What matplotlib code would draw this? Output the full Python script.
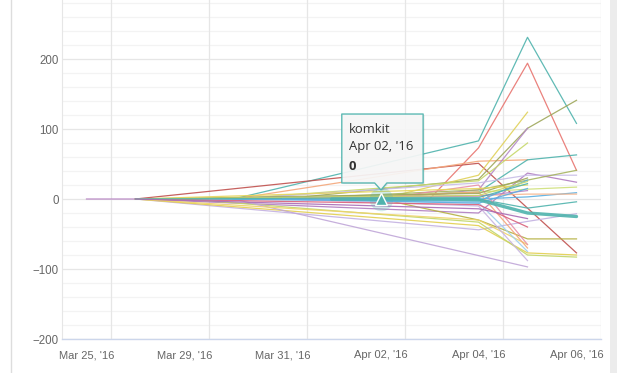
import matplotlib
matplotlib.use("Agg")
import matplotlib.pyplot as plt
from matplotlib.patches import Polygon, Rectangle
from matplotlib.lines import Line2D

plt.rcParams['font.family'] = ['Liberation Sans', 'DejaVu Sans']

# categories (one per data point)
days = ["Mar 25, '16", "Mar 28, '16", "Mar 29, '16", "Mar 30, '16", "Mar 31, '16",
        "Apr 01, '16", "Apr 02, '16", "Apr 03, '16", "Apr 04, '16", "Apr 05, '16",
        "Apr 06, '16"]
shown_labels = [0, 2, 4, 6, 8, 10]

N = None
TEAL = "#4fb3ad"
# series colours and values, None = no point that day
colors = [
    TEAL, "#e8746f", "#c0504d", "#f4a77a", "#9ea75a", "#e0d15a", "#b489c6",
    "#c6d86a", TEAL, "#b07cc0", "#c8bde6", "#a6b45e", "#cfe07a", "#5aaee0",
    "#f6b58d", TEAL, "#c3b1e1", "#b5b040", "#e3cf4f", "#c2d66a", "#c0a6d8",
    "#eed36a", "#f4a77a", "#e88fa8", "#9fd0ec", "#c8b4e0", "#b783c3",
    "#9ea75a", "#e6d55a", "#5aaee0", "#d9607a", "#c6d86a", TEAL, "#a86bb5",
    "#5aaee0",
]
values = [
    [N, N, N, 0, N, N, N, N, 83, 231, 108],
    [N, N, N, N, N, N, N, 0, 73, 194, 41],
    [N, 0, N, N, N, N, N, N, 51, -13, -77],
    [N, N, N, 0, N, N, N, N, 54, 56, N],
    [N, N, N, N, 0, N, N, N, 28, 101, 141],
    [N, N, N, N, N, N, 0, N, 34, 124, N],
    [N, N, N, N, N, N, 0, N, 13, 101, N],
    [N, N, N, 0, N, N, N, N, 26, 80, N],
    [N, N, N, N, N, 0, N, N, 10, 56, 63],
    [N, 0, N, N, N, N, N, N, -20, 37, 24],
    [N, N, N, 0, N, N, N, N, 23, 34, 34],
    [N, N, N, N, 0, N, N, N, 13, 27, 41],
    [N, N, N, N, 0, N, N, N, 10, 14, 17],
    [N, N, N, 0, N, N, N, N, 0, 3, 9],
    [N, N, N, 0, N, N, N, N, 5, 7, 7],
    [N, N, N, N, N, 0, N, N, 0, -13, -4],
    [N, 0, N, N, N, N, N, N, -44, -32, -21],
    [N, N, N, N, N, N, 0, N, -30, -57, -57],
    [N, 0, N, N, N, N, N, N, -38, -77, -80],
    [N, N, 0, N, N, N, N, N, -33, -80, -83],
    [N, N, N, 0, N, N, N, N, N, -97, N],
    [N, 0, N, N, N, N, N, N, -30, -65, N],
    [N, N, N, N, N, 0, N, N, 10, -70, N],
    [N, N, N, N, N, N, 0, N, 20, -65, N],
    [N, N, N, 0, N, N, N, N, -5, -75, N],
    [N, N, N, N, 0, N, N, N, -10, -88, N],
    [0, 0, N, N, N, N, N, N, 4, 12, N],
    [N, 0, N, N, N, N, N, N, 8, 30, N],
    [N, 0, N, N, N, N, N, N, 15, 20, N],
    [N, 0, 0, N, N, N, N, N, -3, 27, N],
    [N, 0, N, N, N, N, N, N, -8, -40, N],
    [N, 0, N, N, N, N, N, N, 5, 25, N],
    [N, 0, N, N, N, N, N, N, 2, 22, N],
    [N, 0, N, N, N, N, N, N, -14, -28, N],
    [N, N, N, N, 0, N, N, N, -6, 15, N],
]
komkit = [N, N, N, N, N, 0, 0, 0, -1, -20, -25]
hover_day = 6

fig = plt.figure(figsize=(6.23, 3.73), dpi=100)
ax = fig.add_axes([62 / 623, 34 / 373, 539 / 623, 339 / 373])

for c, vals in zip(colors, values):
    xs = [i for i, v in enumerate(vals) if v is not None]
    ys = [v for v in vals if v is not None]
    ax.plot(xs, ys, color=c, lw=0.9, alpha=0.9, zorder=3)

kx = [i for i, v in enumerate(komkit) if v is not None]
ky = [v for v in komkit if v is not None]
ax.plot(kx, ky, color=TEAL, lw=2.4, alpha=0.9, zorder=4, solid_capstyle='round')

ax.set_xlim(-0.5, 10.5)
ax.set_ylim(-200, 284.3)

# grid
for y in range(-200, 300, 20):
    major = y % 100 == 0
    ax.axhline(y, color="#e6e6e6" if major else "#f3f3f3", lw=0.9, zorder=1)
for i in range(0, 11, 2):
    ax.axvline(i + 0.5, color="#e6e6e6", lw=0.9, zorder=1)

ax.set_xticks(shown_labels)
ax.set_xticklabels([days[i] for i in shown_labels])
ax.set_yticks([-200, -100, 0, 100, 200])
ax.set_yticklabels(["\u2212200", "\u2212100", "0", "100", "200"])
ax.tick_params(axis='x', length=0, pad=8, labelsize=8.0, labelcolor="#666666")
ax.tick_params(axis='y', length=0, pad=2.5, labelsize=8.3, labelcolor="#666666")

for s in ['top', 'right']:
    ax.spines[s].set_visible(False)
ax.spines['left'].set_color("#e6e6e6")
ax.spines['bottom'].set_color("#ccd6eb")
ax.spines['bottom'].set_linewidth(1)

# hovered point marker
ax.plot([hover_day], [komkit[hover_day]], 'o', ms=17, color=TEAL, alpha=0.25,
        mec='none', zorder=5)
ax.plot([hover_day], [komkit[hover_day]], '^', ms=8, color=TEAL, mec='white',
        mew=1, zorder=6)

# tooltip
bx0, bx1, by0, by1 = 5.21, 6.87, 22.9, 121.4
tip = [(bx0, by0), (5.88, by0), (6.01, 12.9), (6.13, by0), (bx1, by0),
       (bx1, by1), (bx0, by1)]
shadow = Polygon([(x + 0.03, y - 1.6) for x, y in tip], closed=True,
                 fc="#000000", alpha=0.08, ec='none', zorder=7)
ax.add_patch(shadow)
ax.add_patch(Polygon(tip, closed=True, fc="#f8f8f8", alpha=0.92, ec=TEAL,
                     lw=1, joinstyle='round', zorder=8))
tfont = ['Open Sans', 'DejaVu Sans']
ax.text(5.35, 98.6, "komkit", fontsize=9.4, color="#333333", va='center',
        family=tfont, zorder=9)
ax.text(5.35, 74.3, days[hover_day], fontsize=9.4, color="#333333", va='center',
        family=tfont, zorder=9)
ax.text(5.35, 47.0, str(komkit[hover_day]), fontsize=9.4, color="#333333",
        va='center', weight='bold', family=tfont, zorder=9)

# container borders
fig.add_artist(Line2D([10.5 / 623, 10.5 / 623], [0, 1], color="#dddddd", lw=1))
fig.add_artist(Rectangle((610 / 623, 0), 7 / 623, 1, color="#ececec", lw=0))

fig.savefig("out.png", dpi=100)
